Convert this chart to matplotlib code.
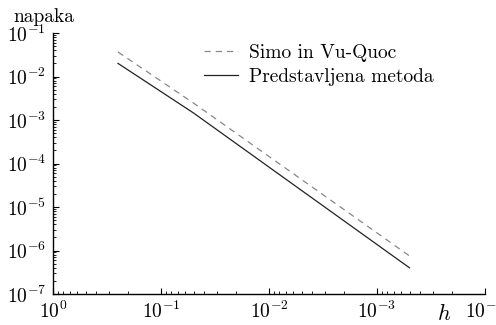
import numpy as np
import matplotlib
matplotlib.use("Agg")
import matplotlib.pyplot as plt
from matplotlib.ticker import LogLocator, NullFormatter, FixedLocator, FixedFormatter

plt.rcParams["mathtext.fontset"] = "cm"
plt.rcParams["font.family"] = "cmr10"
plt.rcParams["axes.formatter.use_mathtext"] = True

# Step size and error of both methods
h = [0.25, 0.05, 0.0005]
err_simo = [3.65e-2, 2.45e-3, 7.5e-7]
err_new = [2.0e-2, 1.45e-3, 4.0e-7]

x_ticks = [1e0, 1e-1, 1e-2, 1e-3, 1e-4]
x_labels = [r"$10^{0}$", r"$10^{-1}$", r"$10^{-2}$", r"$10^{-3}$", r"$10^{-4}$"]
y_ticks = [1e-1, 1e-2, 1e-3, 1e-4, 1e-5, 1e-6, 1e-7]
y_labels = [r"$10^{-1}$", r"$10^{-2}$", r"$10^{-3}$", r"$10^{-4}$",
            r"$10^{-5}$", r"$10^{-6}$", r"$10^{-7}$"]

FS = 14

W, H = 496, 325
fig = plt.figure(figsize=(W / 100, H / 100), dpi=100)
ax = fig.add_axes([53 / W, 1 - 294 / H, (485 - 53) / W, (294 - 33) / H])

ax.plot(h, err_simo, color="#888888", lw=0.9, dashes=(5, 4),
        label="Simo in Vu-Quoc")
ax.plot(h, err_new, color="#222222", lw=0.9, label="Predstavljena metoda")

ax.set_xscale("log")
ax.set_yscale("log")
ax.set_xlim(1e0, 1e-4)
ax.set_ylim(1e-7, 1e-1)

ax.xaxis.set_major_locator(FixedLocator(x_ticks))
ax.xaxis.set_major_formatter(FixedFormatter(x_labels))
ax.yaxis.set_major_locator(FixedLocator(y_ticks))
ax.yaxis.set_major_formatter(FixedFormatter(y_labels))
ax.xaxis.set_minor_locator(LogLocator(base=10, subs=np.arange(2, 10), numticks=20))
ax.yaxis.set_minor_locator(LogLocator(base=10, subs=np.arange(2, 10), numticks=20))
ax.xaxis.set_minor_formatter(NullFormatter())
ax.yaxis.set_minor_formatter(NullFormatter())

for s in ("top", "right"):
    ax.spines[s].set_visible(False)
for s in ("left", "bottom"):
    ax.spines[s].set_linewidth(1.0)

ax.tick_params(which="major", direction="in", length=4, width=0.8,
               labelsize=FS, pad=5)
ax.tick_params(which="minor", direction="in", length=2, width=0.6)

ax.legend(loc="upper left", bbox_to_anchor=(204 / W, 1 - 44 / H),
          bbox_transform=fig.transFigure, frameon=False, fontsize=FS,
          borderpad=0, borderaxespad=0, handlelength=1.75,
          handletextpad=0.55, labelspacing=0.3)

fig.text(13 / W, 1 - 17 / H, "napaka", fontsize=FS, ha="left", va="center")
fig.text(444 / W, 1 - 314 / H, r"$h$", fontsize=16, ha="center", va="center")

fig.savefig("out.png", dpi=100)
